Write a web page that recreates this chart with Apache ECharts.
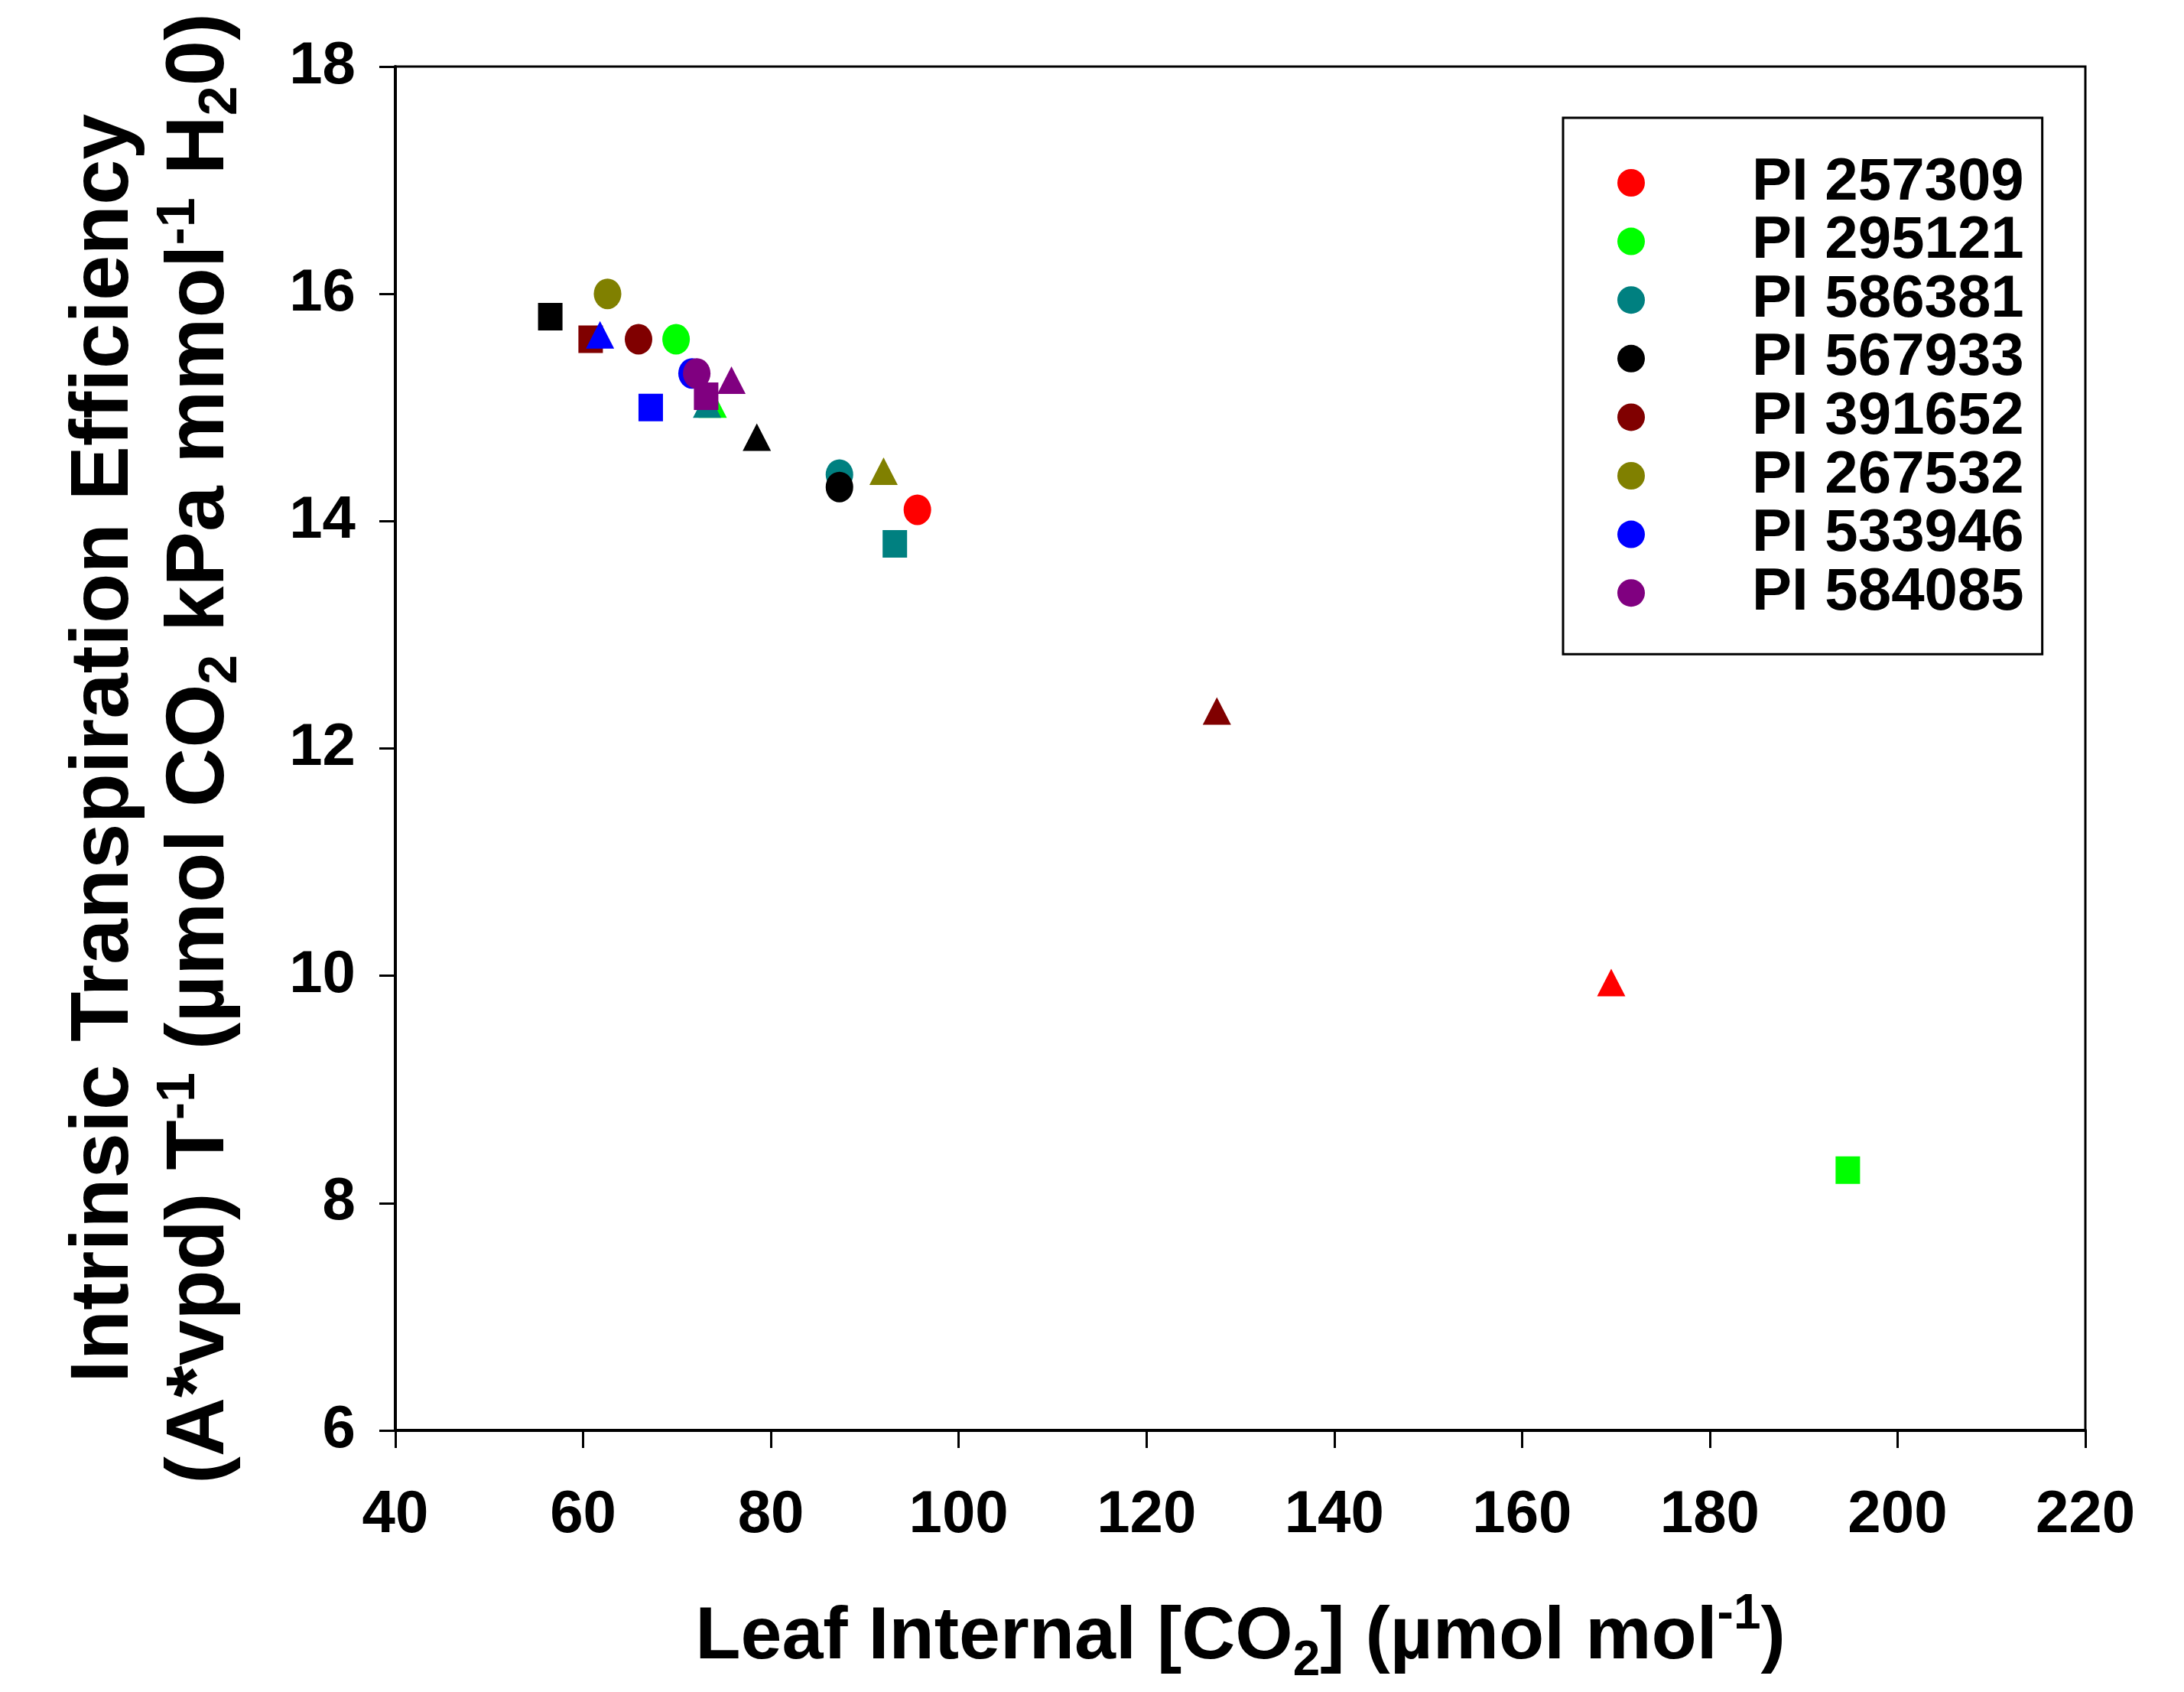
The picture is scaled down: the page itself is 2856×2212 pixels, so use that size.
<!DOCTYPE html>
<html>
<head>
<meta charset="utf-8">
<script src="https://cdn.jsdelivr.net/npm/echarts@6/dist/echarts.min.js"></script>
<style>
html,body{margin:0;padding:0;background:#fff;}
#chart{width:2856px;height:2212px;}
</style>
</head>
<body>
<div id="chart"></div>
<script>
// ---- data ----
const genotypes = ['PI 257309','PI 295121','PI 586381','PI 567933','PI 391652','PI 267532','PI 533946','PI 584085'];
const colors = ['#FF0000','#00FF00','#008080','#000000','#800000','#808000','#0000FF','#800080'];
// circles
const circleCi  = [95.6, 69.9, 87.3, 87.3, 65.9, 62.6, 71.6, 72.1];
const circleITE = [14.10, 15.60, 14.41, 14.30, 15.60, 16.00, 15.30, 15.30];
// triangles
const triangleCi  = [169.5, 73.8, 73.2, 78.5, 127.5, 92.0, 61.8, 75.8];
const triangleITE = [9.94, 15.03, 15.03, 14.74, 12.33, 14.44, 15.64, 15.24];
// squares
const squareCi  = [null, 194.7, 93.2, 56.5, 60.8, null, 67.2, 73.1];
const squareITE = [null, 8.29, 13.80, 15.80, 15.60, null, 15.00, 15.10];
// axes
const xMin = 40, xMax = 220, xStep = 20;
const yMin = 6, yMax = 18, yStep = 2;

const FONT = "'Liberation Sans', Arial, Helvetica, sans-serif";

const series = genotypes.map((g, i) => {
  const data = [];
  if (circleCi[i] != null) data.push({value: [circleCi[i], circleITE[i]], symbol: 'circle', symbolSize: [36, 40]});
  if (triangleCi[i] != null) data.push({value: [triangleCi[i], triangleITE[i]], symbol: 'triangle', symbolSize: [37, 36]});
  if (squareCi[i] != null) data.push({value: [squareCi[i], squareITE[i]], symbol: 'rect', symbolSize: [32, 36]});
  return {
    name: g, type: 'scatter', data: data,
    itemStyle: {color: colors[i], opacity: 1},
    emphasis: {disabled: true},
    animation: false
  };
});

const chart = echarts.init(document.getElementById('chart'), null, {renderer: 'canvas'});
chart.setOption({
  backgroundColor: '#ffffff',
  animation: false,
  grid: {left: 517, right: 129, top: 87, bottom: 342, show: true, borderColor: '#000', borderWidth: 3, backgroundColor: 'transparent'},
  xAxis: {
    type: 'value', min: xMin, max: xMax, interval: xStep,
    axisLine: {show: true, onZero: false, lineStyle: {color: '#000', width: 4}},
    axisTick: {show: true, inside: false, length: 23, lineStyle: {color: '#000', width: 3}},
    splitLine: {show: false},
    axisLabel: {color: '#000', fontSize: 78, lineHeight: 78, fontWeight: 'bold', fontFamily: FONT, margin: 72},
    name: '{m|Leaf Internal [CO}{sub|2}{m|] (µmol mol}{sup|-1}{m|)}',
    nameLocation: 'middle', nameGap: 209,
    nameTextStyle: {
      color: '#000',
      rich: {
        m: {fontSize: 97, lineHeight: 125, fontWeight: 'bold', fontFamily: FONT, color: '#000'},
        sub: {fontSize: 64, lineHeight: 31, verticalAlign: 'bottom', fontWeight: 'bold', fontFamily: FONT, color: '#000'},
        sup: {fontSize: 64, lineHeight: 45, verticalAlign: 'top', fontWeight: 'bold', fontFamily: FONT, color: '#000'}
      }
    }
  },
  yAxis: {
    type: 'value', min: yMin, max: yMax, interval: yStep,
    axisLine: {show: true, onZero: false, lineStyle: {color: '#000', width: 4}},
    axisTick: {show: true, inside: false, length: 21, lineStyle: {color: '#000', width: 3}},
    splitLine: {show: false},
    axisLabel: {color: '#000', fontSize: 78, lineHeight: 78, fontWeight: 'bold', fontFamily: FONT, margin: 52},
    name: '{m|Intrinsic Transpiration Efficiency}\n{m|(A*vpd) T}{sup|-1}{m| (µmol CO}{sub|2}{m| kPa mmol}{sup|-1}{m| H}{sub|2}{m|0)}',
    nameLocation: 'middle', nameGap: 192,
    nameTextStyle: {
      color: '#000', align: 'center',
      rich: {
        m: {fontSize: 107, lineHeight: 125, fontWeight: 'bold', fontFamily: FONT, color: '#000'},
        sub: {fontSize: 70, lineHeight: 39, verticalAlign: 'bottom', fontWeight: 'bold', fontFamily: FONT, color: '#000'},
        sup: {fontSize: 70, lineHeight: 47, verticalAlign: 'top', fontWeight: 'bold', fontFamily: FONT, color: '#000'}
      }
    }
  },
  legend: {
    show: true, orient: 'vertical', left: 2044, top: 154,
    padding: [46, 24, 41, 71],
    borderColor: '#000', borderWidth: 3, backgroundColor: '#fff',
    itemWidth: 36, itemHeight: 40, itemGap: -1.4,
    icon: 'circle',
    selectedMode: false,
    data: genotypes,
    formatter: name => '{t|' + name + '}',
    textStyle: {
      color: '#000', fontSize: 78, lineHeight: 76, fontWeight: 'bold', fontFamily: FONT,
      rich: {t: {fontSize: 78, lineHeight: 76, fontWeight: 'bold', fontFamily: FONT, color: '#000', padding: [0, 0, 0, 135]}}
    }
  },
  series: series
});
</script>
</body>
</html>
